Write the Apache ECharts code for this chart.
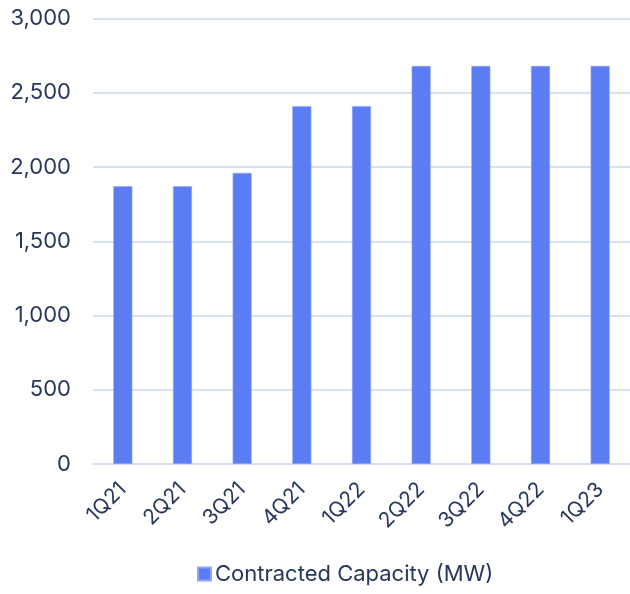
<!DOCTYPE html>
<html>
<head>
<meta charset="utf-8">
<script src="https://cdn.jsdelivr.net/npm/echarts@6/dist/echarts.min.js"></script>
<style>
  html, body { margin: 0; padding: 0; background: #ffffff; }
  #chart { width: 630px; height: 594px; }
</style>
</head>
<body>
<div id="chart"></div>
<script>
// Quarterly contracted capacity, in megawatts
const quarters = ['1Q21', '2Q21', '3Q21', '4Q21', '1Q22', '2Q22', '3Q22', '4Q22', '1Q23'];
const contractedCapacity = [1870, 1870, 1960, 2410, 2410, 2680, 2680, 2680, 2680];
const seriesName = 'Contracted Capacity (MW)';

const textColor = '#27375c';
const fontFamily = 'Inter, "Noto Sans", sans-serif';

const chart = echarts.init(document.getElementById('chart'), null, { renderer: 'canvas' });
chart.setOption({
  animation: false,
  backgroundColor: '#ffffff',
  textStyle: { fontFamily: fontFamily, color: textColor },
  grid: { left: 93, top: 18.5, width: 540, height: 445.5, containLabel: false },
  legend: {
    top: 563,
    left: 197,
    padding: 0,
    itemWidth: 13,
    itemHeight: 13,
    itemGap: 4,
    icon: 'rect',
    textStyle: { fontSize: 22, color: textColor, fontFamily: fontFamily, padding: [0, 0, 0, -1] },
    data: [seriesName]
  },
  xAxis: {
    type: 'category',
    data: quarters,
    axisLine: { show: true, lineStyle: { color: '#d9e1ef', width: 2 } },
    axisTick: { show: false },
    axisLabel: {
      rotate: 45,
      margin: 22,
      fontSize: 21,
      color: textColor,
      fontFamily: fontFamily
    }
  },
  yAxis: {
    type: 'value',
    min: 0,
    max: 3000,
    interval: 500,
    axisLine: { show: false },
    axisTick: { show: false },
    splitLine: { lineStyle: { color: '#d9e1ef', width: 2 } },
    axisLabel: {
      margin: 22,
      fontSize: 22,
      color: textColor,
      fontFamily: fontFamily,
      formatter: v => v.toLocaleString('en-US')
    }
  },
  series: [{
    name: seriesName,
    type: 'bar',
    data: contractedCapacity,
    barWidth: 19,
    itemStyle: { color: '#5b7cf3', borderColor: '#8fa6f7', borderWidth: 0.6 }
  }]
});
</script>
</body>
</html>
